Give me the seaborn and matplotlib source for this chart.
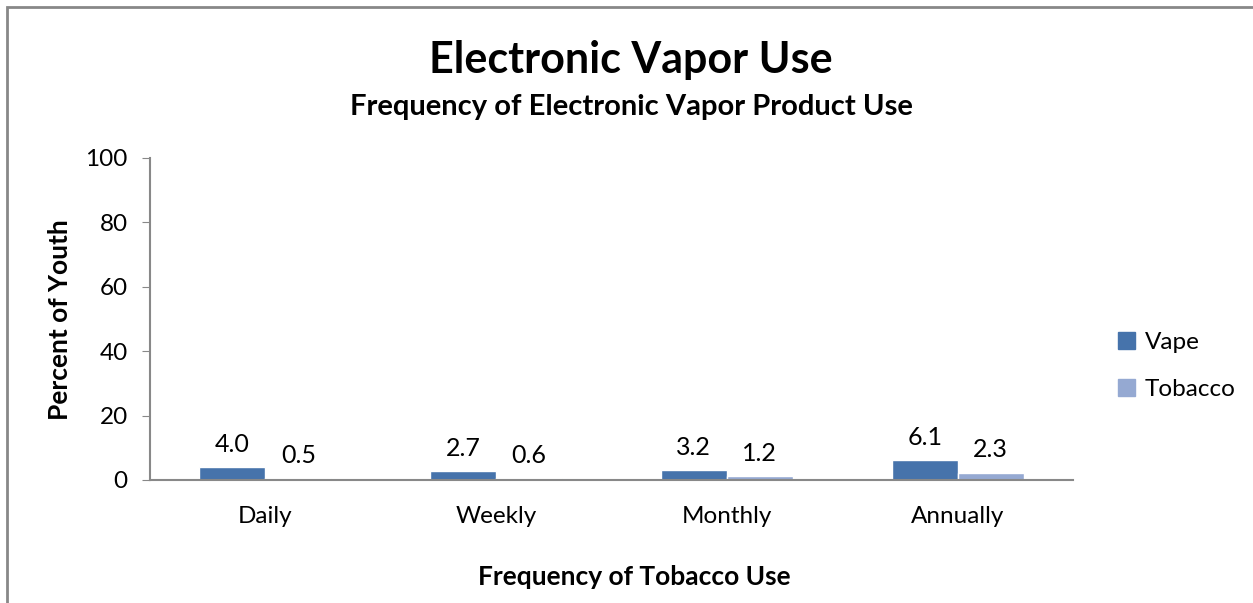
import matplotlib
matplotlib.use("Agg")
import matplotlib.pyplot as plt
import seaborn as sns
import pandas as pd
from matplotlib.patches import Rectangle

# Data
categories = ["Daily", "Weekly", "Monthly", "Annually"]
vape = [4.0, 2.7, 3.2, 6.1]
tobacco = [0.5, 0.6, 1.2, 2.3]
series_names = ["Vape", "Tobacco"]

df = pd.DataFrame({
    "Frequency": categories * 2,
    "Percent": vape + tobacco,
    "Series": [series_names[0]] * 4 + [series_names[1]] * 4,
})

sns.set_style("white")
plt.rcParams['font.family'] = ['Lato', 'DejaVu Sans']
plt.rcParams['text.color'] = 'black'
plt.rcParams['xtick.color'] = 'black'
plt.rcParams['ytick.color'] = 'black'

fig = plt.figure(figsize=(12.53, 6.03), dpi=100)
ax = fig.add_axes([150/1253, 1 - 480/603, 923/1253, 322/603])

palette = {"Vape": "#4673AB", "Tobacco": "#95A9D2"}
sns.barplot(data=df, x="Frequency", y="Percent", hue="Series", order=categories,
            hue_order=series_names, palette=palette, width=0.572, gap=0,
            saturation=1, ax=ax, legend=False)

for cont in ax.containers:
    ax.bar_label(cont, fmt="%.1f", padding=8, fontsize=18)

ax.set_ylim(0, 100)
ax.set_xlim(-0.5, 3.5)
ax.set_yticks([0, 20, 40, 60, 80, 100])
ax.tick_params(axis='y', labelsize=17.5, length=6, color='#888888', direction='out',
               left=True, pad=10)
ax.tick_params(axis='x', labelsize=17.5, length=0, pad=19)
for s in ["top", "right"]:
    ax.spines[s].set_visible(False)
for s in ["left", "bottom"]:
    ax.spines[s].set_color('#888888')
    ax.spines[s].set_linewidth(1.5)
ax.set_xlabel("")
ax.set_ylabel("")

fig.text(60/1253, 1 - 320/603, "Percent of Youth", rotation=90, fontsize=19,
         fontweight='bold', ha='center', va='center')
fig.text(634/1253, 1 - 577/603, "Frequency of Tobacco Use", fontsize=19,
         fontweight='bold', ha='center', va='center')
fig.text(631/1253, 1 - 60/603, "Electronic Vapor Use", fontsize=31,
         fontweight='bold', ha='center', va='center')
fig.text(631/1253, 1 - 107/603, "Frequency of Electronic Vapor Product Use", fontsize=21,
         fontweight='bold', ha='center', va='center')

# legend
handles = [Rectangle((0, 0), 1, 1, color=palette[n]) for n in series_names]
fig.legend(handles, series_names, loc='center left',
           bbox_to_anchor=(1096/1253, 1 - 366/603), frameon=False, fontsize=17.5,
           handlelength=0.7, handleheight=0.7, labelspacing=1.1, handletextpad=0.4)

# outer chart border (cut off at right and bottom)
fig.patches.append(Rectangle((7/1253, -0.1), 1.2, (1 - 7/603) + 0.1,
                             transform=fig.transFigure, fill=False,
                             edgecolor='#888888', linewidth=2))

fig.savefig("out.png", dpi=100, facecolor='white')
